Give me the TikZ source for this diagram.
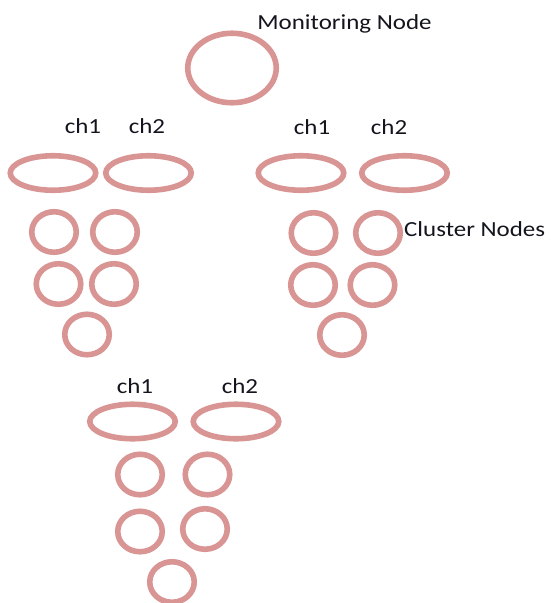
\documentclass[tikz,border=0pt]{standalone}
\usepackage{fontspec}
\setmainfont{Carlito}
\usetikzlibrary{shapes.geometric}
\definecolor{ringpink}{RGB}{217,149,148}
\definecolor{inkdark}{RGB}{20,20,30}
\newcommand\stretchtext[1]{\scalebox{1.16}[1]{#1}}
\begin{document}
\begin{tikzpicture}[x=1pt,y=-1pt,
  ringbase/.style={ellipse, draw=ringpink, line width=5.6pt, inner sep=0pt},
  member/.style={ringbase, minimum width=44.5pt, minimum height=40.5pt},
  head/.style={ringbase, minimum width=85.5pt, minimum height=34.5pt},
  lbl/.style={anchor=base, inner sep=0pt, text=inkdark,
              font=\fontsize{21.5}{25}\selectfont}]
\useasboundingbox (0,0) rectangle (550,603);

% monitoring node
\node[ringbase, minimum width=88.5pt, minimum height=69.5pt] (mon) at (232,68) {};
\node[lbl] (monlbl) at (344.5,29) {\stretchtext{Monitoring Node}};

% left cluster
\node[lbl] (lch1) at (83,133) {\stretchtext{ch1}};
\node[lbl] (lch2) at (147,133) {\stretchtext{ch2}};
\node[head] (lh1) at (53,173) {};
\node[head] (lh2) at (148.5,173) {};
\node[member] (la) at (54,232) {};
\node[member] (lb) at (115,232) {};
\node[member] (lc) at (58.5,284) {};
\node[member] (ld) at (114,284) {};
\node[member] (le) at (87,334.5) {};

% right cluster
\node[lbl] (rch1) at (312,134) {\stretchtext{ch1}};
\node[lbl] (rch2) at (389,134) {\stretchtext{ch2}};
\node[head] (rh1) at (301,173) {};
\node[head] (rh2) at (404.5,173) {};
\node[member] (ra) at (313.5,233) {};
\node[member] (rb) at (378,233) {};
\node[member] (rc) at (313,285) {};
\node[member] (rd) at (372.5,285) {};
\node[member] (re) at (342,335) {};
\node[lbl, anchor=base west] (cnlbl) at (404,236) {\stretchtext{Cluster Nodes}};

% bottom cluster
\node[lbl] (bch1) at (135,393) {\stretchtext{ch1}};
\node[lbl] (bch2) at (240,393) {\stretchtext{ch2}};
\node[head] (bh1) at (132.5,421.5) {};
\node[head] (bh2) at (236,421.5) {};
\node[member] (ba) at (140,474.5) {};
\node[member] (bb) at (207.5,474.5) {};
\node[member] (bc) at (140,531.5) {};
\node[member] (bd) at (205,529) {};
\node[member] (be) at (172,582) {};
\end{tikzpicture}
\end{document}
